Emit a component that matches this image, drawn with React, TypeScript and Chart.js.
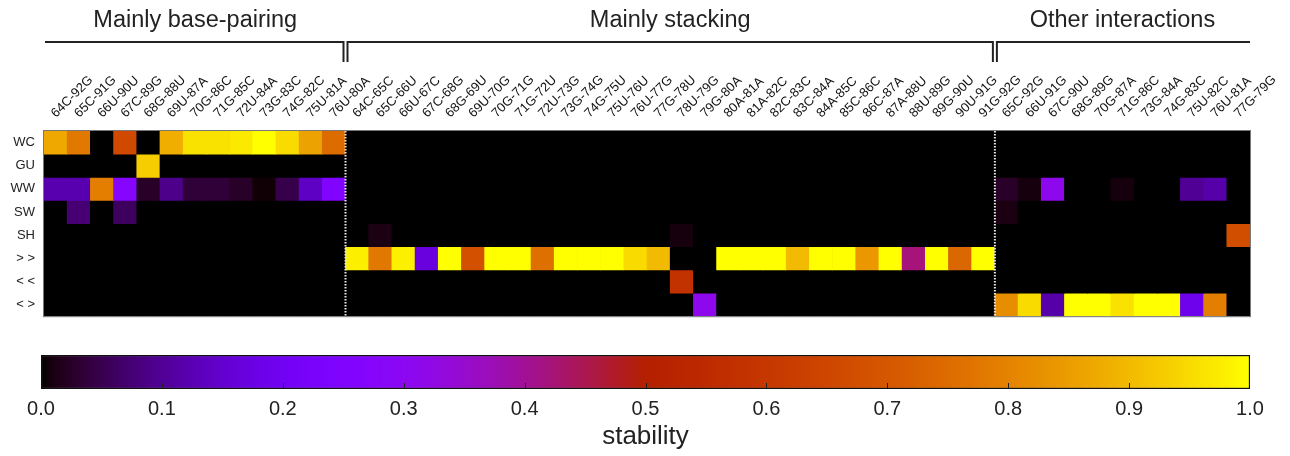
import React, { useEffect, useRef } from "react";
import { Chart, registerables } from "chart.js";

Chart.register(...registerables);
Chart.defaults.font.family = "'Liberation Sans', Arial, sans-serif";

// ---- categories ----
const basePairLabels = ["64C-92G", "65C-91G", "66U-90U", "67C-89G", "68G-88U", "69U-87A", "70G-86C", "71G-85C", "72U-84A", "73G-83C", "74G-82C", "75U-81A", "76U-80A"];
const stackingLabels = ["64C-65C", "65C-66U", "66U-67C", "67C-68G", "68G-69U", "69U-70G", "70G-71G", "71G-72U", "72U-73G", "73G-74G", "74G-75U", "75U-76U", "76U-77G", "77G-78U", "78U-79G", "79G-80A", "80A-81A", "81A-82C", "82C-83C", "83C-84A", "84A-85C", "85C-86C", "86C-87A", "87A-88U", "88U-89G", "89G-90U", "90U-91G", "91G-92G"];
const otherLabels = ["65C-92G", "66U-91G", "67C-90U", "68G-89G", "70G-87A", "71G-86C", "73G-84A", "74G-83C", "75U-82C", "76U-81A", "77G-79G"];
const xLabels = [...basePairLabels, ...stackingLabels, ...otherLabels];

const rowLabels = ["WC", "GU", "WW", "SW", "SH", "> >", "< <", "< >"];
const sectionTitles = ["Mainly base-pairing", "Mainly stacking", "Other interactions"];
const colorbarTicks = [0, 0.1, 0.2, 0.3, 0.4, 0.5, 0.6, 0.7, 0.8, 0.9, 1.0];

// ---- values (stability) per row: 13 base-pairing | 28 stacking | 11 other ----
const wcValues = [
  0.87, 0.78, 0, 0.66, 0, 0.88, 0.96, 0.96, 0.97, 1.0, 0.95, 0.86, 0.75,
  0, 0, 0, 0, 0, 0, 0, 0, 0, 0, 0, 0, 0, 0, 0, 0, 0, 0, 0, 0, 0, 0, 0, 0, 0, 0, 0, 0,
  0, 0, 0, 0, 0, 0, 0, 0, 0, 0, 0,
];
const guValues = [
  0, 0, 0, 0, 0.93, 0, 0, 0, 0, 0, 0, 0, 0,
  0, 0, 0, 0, 0, 0, 0, 0, 0, 0, 0, 0, 0, 0, 0, 0, 0, 0, 0, 0, 0, 0, 0, 0, 0, 0, 0, 0,
  0, 0, 0, 0, 0, 0, 0, 0, 0, 0, 0,
];
const wwValues = [
  0.12, 0.12, 0.79, 0.27, 0.025, 0.09, 0.035, 0.036, 0.025, 0.004, 0.047, 0.14, 0.25,
  0, 0, 0, 0, 0, 0, 0, 0, 0, 0, 0, 0, 0, 0, 0, 0, 0, 0, 0, 0, 0, 0, 0, 0, 0, 0, 0, 0,
  0.025, 0.008, 0.31, 0, 0, 0.008, 0, 0, 0.1, 0.115, 0,
];
const swValues = [
  0, 0.075, 0, 0.06, 0, 0, 0, 0, 0, 0, 0, 0, 0,
  0, 0, 0, 0, 0, 0, 0, 0, 0, 0, 0, 0, 0, 0, 0, 0, 0, 0, 0, 0, 0, 0, 0, 0, 0, 0, 0, 0,
  0.01, 0, 0, 0, 0, 0, 0, 0, 0, 0, 0,
];
const shValues = [
  0, 0, 0, 0, 0, 0, 0, 0, 0, 0, 0, 0, 0,
  0, 0.012, 0, 0, 0, 0, 0, 0, 0, 0, 0, 0, 0, 0, 0.008, 0, 0, 0, 0, 0, 0, 0, 0, 0, 0, 0, 0, 0,
  0, 0, 0, 0, 0, 0, 0, 0, 0, 0, 0.67,
];
const ssValues = [
  0, 0, 0, 0, 0, 0, 0, 0, 0, 0, 0, 0, 0,
  0.98, 0.78, 0.98, 0.17, 1.0, 0.68, 1.0, 1.0, 0.76, 1.0, 1.0, 1.0, 0.95, 0.9, 0, 0, 1.0, 1.0, 1.0, 0.9, 1.0, 1.0, 0.84, 1.0, 0.42, 1.0, 0.74, 1.0,
  0, 0, 0, 0, 0, 0, 0, 0, 0, 0, 0,
];
const aaValues = [
  0, 0, 0, 0, 0, 0, 0, 0, 0, 0, 0, 0, 0,
  0, 0, 0, 0, 0, 0, 0, 0, 0, 0, 0, 0, 0, 0, 0.58, 0, 0, 0, 0, 0, 0, 0, 0, 0, 0, 0, 0, 0,
  0, 0, 0, 0, 0, 0, 0, 0, 0, 0, 0,
];
const saValues = [
  0, 0, 0, 0, 0, 0, 0, 0, 0, 0, 0, 0, 0,
  0, 0, 0, 0, 0, 0, 0, 0, 0, 0, 0, 0, 0, 0, 0, 0.31, 0, 0, 0, 0, 0, 0, 0, 0, 0, 0, 0, 0,
  0.82, 0.95, 0.115, 1.0, 1.0, 0.96, 1.0, 1.0, 0.19, 0.79, 0,
];
const rowValues = [wcValues, guValues, wwValues, swValues, shValues, ssValues, aaValues, saValues];

// gnuplot default pm3d palette (rgbformulae 7,5,15)
function palette(v: number): string {
  const r = Math.sqrt(Math.max(0, v));
  const g = v * v * v;
  const b = Math.max(0, Math.sin(2 * Math.PI * v));
  return `rgb(${Math.round(255 * r)},${Math.round(255 * g)},${Math.round(255 * b)})`;
}

const TEXT = "#222";
const MAIN_H = 333;
const BAR_H = 456 - MAIN_H;

const heatmapDecor = {
  id: "heatmapDecor",
  beforeDatasetsDraw(chart: any) {
    const { ctx, chartArea } = chart;
    ctx.save();
    ctx.fillStyle = "#000";
    ctx.fillRect(chartArea.left, chartArea.top, chartArea.right - chartArea.left, chartArea.bottom - chartArea.top);
    ctx.restore();
  },
  afterDatasetsDraw(chart: any) {
    const { ctx, chartArea, scales } = chart;
    const x = scales.x;
    const n1 = basePairLabels.length;
    const n2 = n1 + stackingLabels.length;
    const b1 = (x.getPixelForValue(n1 - 1) + x.getPixelForValue(n1)) / 2;
    const b2 = (x.getPixelForValue(n2 - 1) + x.getPixelForValue(n2)) / 2;
    ctx.save();
    // dotted separators
    ctx.strokeStyle = "#e8e8e8";
    ctx.lineWidth = 2;
    ctx.setLineDash([1.5, 1.5]);
    for (const b of [b1, b2]) {
      ctx.beginPath();
      ctx.moveTo(b, chartArea.top);
      ctx.lineTo(b, chartArea.bottom);
      ctx.stroke();
    }
    ctx.setLineDash([]);
    // frame
    ctx.strokeStyle = "#777";
    ctx.lineWidth = 1;
    ctx.strokeRect(chartArea.left - 0.5, chartArea.top - 0.5, chartArea.right - chartArea.left + 1, chartArea.bottom - chartArea.top + 1);

    // section brackets
    const left = chartArea.left + 1;
    const right = chartArea.right;
    const yl = 42;
    const yv = 62;
    ctx.strokeStyle = TEXT;
    ctx.lineWidth = 2;
    ctx.beginPath();
    ctx.moveTo(left, yl);
    ctx.lineTo(b1 - 2, yl);
    ctx.lineTo(b1 - 2, yv);
    ctx.moveTo(b1 + 2, yv);
    ctx.lineTo(b1 + 2, yl);
    ctx.lineTo(b2 - 2, yl);
    ctx.lineTo(b2 - 2, yv);
    ctx.moveTo(b2 + 2, yv);
    ctx.lineTo(b2 + 2, yl);
    ctx.lineTo(right, yl);
    ctx.stroke();

    // section titles
    ctx.fillStyle = TEXT;
    ctx.font = "23.5px 'Liberation Sans', Arial, sans-serif";
    ctx.textAlign = "center";
    ctx.textBaseline = "middle";
    const centers = [(left + b1) / 2, (b1 + b2) / 2, (b2 + right) / 2];
    sectionTitles.forEach((t, i) => ctx.fillText(t, centers[i], 21));
    ctx.restore();
  },
};

const colorbarDecor = {
  id: "colorbarDecor",
  afterDatasetsDraw(chart: any) {
    const { ctx, chartArea, scales } = chart;
    const x = scales.x;
    ctx.save();
    ctx.strokeStyle = "#222";
    ctx.lineWidth = 1;
    for (const v of colorbarTicks) {
      if (v <= 0 || v >= 1) continue;
      const px = Math.round(x.getPixelForValue(v)) + 0.5;
      ctx.beginPath();
      ctx.moveTo(px, chartArea.bottom - 1);
      ctx.lineTo(px, chartArea.bottom - 6);
      ctx.stroke();
    }
    ctx.restore();
  },
};

export default function App() {
  const mainRef = useRef<HTMLCanvasElement>(null);
  const barRef = useRef<HTMLCanvasElement>(null);

  useEffect(() => {
    const main = new Chart(mainRef.current as HTMLCanvasElement, {
      type: "bar",
      data: {
        labels: xLabels,
        datasets: rowValues.map((vals, r) => ({
          label: rowLabels[r],
          data: vals.map(() => [r - 0.5, r + 0.5]),
          backgroundColor: vals.map(palette),
          borderWidth: 0,
          barPercentage: 1,
          categoryPercentage: 1,
          grouped: false,
        })),
      } as any,
      options: {
        animation: false,
        responsive: false,
        events: [],
        layout: { padding: { left: 0, right: 40, top: 0, bottom: 4 } },
        plugins: { legend: { display: false }, tooltip: { enabled: false } },
        scales: {
          x: {
            type: "category",
            position: "top",
            grid: { display: false, drawTicks: false },
            border: { display: false },
            ticks: {
              autoSkip: false,
              minRotation: 45,
              maxRotation: 45,
              padding: 10,
              labelOffset: 9,
              color: "#111",
              font: { size: 13 },
            },
            afterFit: (s: any) => {
              s.height = 131;
            },
          },
          y: {
            type: "linear",
            reverse: true,
            min: -0.5,
            max: 7.5,
            grid: { display: false, drawTicks: false },
            border: { display: false },
            afterBuildTicks: (s: any) => {
              s.ticks = rowLabels.map((_, i) => ({ value: i }));
            },
            ticks: {
              callback: (v: any) => rowLabels[v],
              padding: 9,
              color: TEXT,
              font: { size: 13 },
            },
            afterFit: (s: any) => {
              s.width = 44;
            },
          },
        },
      } as any,
      plugins: [heatmapDecor],
    });

    const bar = new Chart(barRef.current as HTMLCanvasElement, {
      type: "bar",
      data: {
        labels: ["stability"],
        datasets: [
          {
            data: [[0, 1]],
            backgroundColor: (c: any) => {
              const ch = c.chart;
              const xs = ch.scales && ch.scales.x;
              if (!xs || !ch.chartArea) return "#000";
              const x0 = xs.getPixelForValue(0);
              const x1 = xs.getPixelForValue(1);
              const g = ch.ctx.createLinearGradient(x0, 0, x1, 0);
              for (let i = 0; i <= 100; i++) g.addColorStop(i / 100, palette(i / 100));
              return g;
            },
            borderColor: "#111",
            borderWidth: 1.5,
            borderSkipped: false,
            barPercentage: 1,
            categoryPercentage: 1,
          },
        ],
      } as any,
      options: {
        animation: false,
        responsive: false,
        events: [],
        indexAxis: "y",
        layout: { padding: { left: 41, right: 40, top: 355 - MAIN_H, bottom: 0 } },
        plugins: { legend: { display: false }, tooltip: { enabled: false } },
        scales: {
          x: {
            type: "linear",
            position: "bottom",
            min: 0,
            max: 1,
            afterBuildTicks: (s: any) => {
              s.ticks = colorbarTicks.map((v) => ({ value: v }));
            },
            grid: { display: false, drawTicks: false },
            border: { display: false },
            ticks: {
              callback: (v: any) => Number(v).toFixed(1),
              padding: 8,
              color: TEXT,
              font: { size: 20 },
            },
            title: {
              display: true,
              text: "stability",
              color: TEXT,
              font: { size: 26 },
              padding: { top: 2, bottom: 4 },
            },
            afterFit: (s: any) => {
              s.height = 456 - 389;
            },
          },
          y: { display: false },
        },
      } as any,
      plugins: [colorbarDecor],
    });

    return () => {
      main.destroy();
      bar.destroy();
    };
  }, []);

  return (
    <div style={{ position: "absolute", left: 0, top: 0, width: 1290, height: 456, background: "#fff" }}>
      <canvas ref={mainRef} width={1290} height={MAIN_H} style={{ position: "absolute", left: 0, top: 0 }} />
      <canvas ref={barRef} width={1290} height={BAR_H} style={{ position: "absolute", left: 0, top: MAIN_H }} />
    </div>
  );
}
